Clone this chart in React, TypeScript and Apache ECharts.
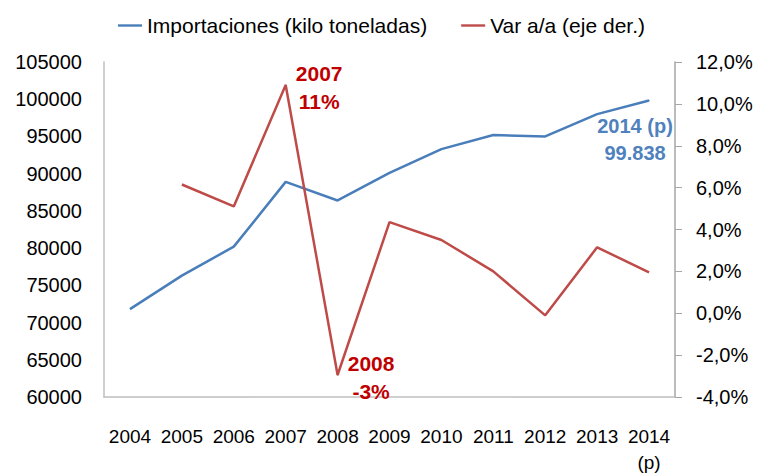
import React, { useEffect, useRef } from "react";
import * as echarts from "echarts";

const years = ["2004", "2005", "2006", "2007", "2008", "2009", "2010", "2011", "2012", "2013", "2014\n(p)"];
const imports = [71800, 76300, 80200, 88900, 86400, 90100, 93300, 95200, 95000, 98000, 99838];
const growth = [null, 6.15, 5.1, 10.9, -2.95, 4.35, 3.5, 2.0, -0.1, 3.15, 1.95];
const importsName = "Importaciones (kilo toneladas)";
const growthName = "Var a/a (eje der.)";

const FONT = "Liberation Sans";

export default function App() {
  const ref = useRef<HTMLDivElement>(null);
  useEffect(() => {
    if (!ref.current) return;
    const chart = echarts.init(ref.current, null, { renderer: "svg" });
    const redLabel = (text: string) => ({
      show: true,
      position: "right",
      distance: 0,
      offset: [33, 2],
      align: "center",
      verticalAlign: "middle",
      formatter: text,
      color: "#C00000",
      fontWeight: "bold",
      fontSize: 21,
      lineHeight: 28,
      fontFamily: FONT,
    });
    const growthData = growth.map((v, i) => {
      if (i === 3) return { value: v, symbol: "circle", symbolSize: 1, label: redLabel("2007\n11%") };
      if (i === 4) return { value: v, symbol: "circle", symbolSize: 1, label: redLabel("2008\n-3%") };
      return v;
    });
    const importsData = imports.map((v, i) => {
      if (i === imports.length - 1)
        return {
          value: v,
          symbol: "circle",
          symbolSize: 1,
          label: {
            show: true,
            position: "bottom",
            distance: 12,
            offset: [-14, 0],
            align: "center",
            formatter: "2014 (p)\n99.838",
            color: "#4F81BD",
            fontWeight: "bold",
            fontSize: 20,
            lineHeight: 27,
            fontFamily: FONT,
          },
        };
      return v;
    });
    const lineIcon = "path://M0,0 L30,0 L30,3 L0,3 Z";
    chart.setOption({
      animation: false,
      textStyle: { fontFamily: FONT },
      legend: {
        top: 10,
        left: 113,
        itemWidth: 24,
        itemHeight: 3,
        itemGap: 34,
        textStyle: { fontSize: 21, color: "#000", fontFamily: FONT },
        data: [
          { name: importsName, icon: lineIcon },
          { name: growthName, icon: lineIcon },
        ],
      },
      grid: { left: 104, right: 82, top: 62, bottom: 77 },
      xAxis: {
        type: "category",
        data: years,
        boundaryGap: true,
        axisLine: { onZero: false, lineStyle: { color: "#BFBFBF", width: 1.5 } },
        axisTick: { show: false },
        axisLabel: { color: "#000", fontSize: 19, margin: 26, lineHeight: 26, interval: 0, fontFamily: FONT },
      },
      yAxis: [
        {
          type: "value",
          min: 60000,
          max: 105000,
          interval: 5000,
          axisLine: { show: true, lineStyle: { color: "#BFBFBF", width: 1.5 } },
          axisTick: { show: false },
          splitLine: { show: false },
          axisLabel: {
            color: "#000",
            fontSize: 20,
            margin: 22,
            fontFamily: FONT,
            formatter: (v: number) => String(v),
          },
        },
        {
          type: "value",
          min: -4,
          max: 12,
          interval: 2,
          position: "right",
          axisLine: { show: true, lineStyle: { color: "#A6A6A6", width: 1.5 } },
          axisTick: { show: true, length: 7, lineStyle: { color: "#A6A6A6" } },
          splitLine: { show: false },
          axisLabel: {
            color: "#000",
            fontSize: 20,
            margin: 21,
            fontFamily: FONT,
            formatter: (v: number) => v.toFixed(1).replace(".", ",") + "%",
          },
        },
      ],
      series: [
        {
          name: importsName,
          type: "line",
          yAxisIndex: 0,
          data: importsData,
          symbol: "none",
          color: "#4A7EBB",
          lineStyle: { width: 2.5, color: "#4A7EBB" },
        },
        {
          name: growthName,
          type: "line",
          yAxisIndex: 1,
          data: growthData,
          symbol: "none",
          color: "#BE4B48",
          lineStyle: { width: 2.5, color: "#BE4B48" },
        },
      ],
    });
    return () => chart.dispose();
  }, []);
  return <div ref={ref} style={{ width: 757, height: 475, position: "absolute", left: 0, top: 0 }} />;
}
